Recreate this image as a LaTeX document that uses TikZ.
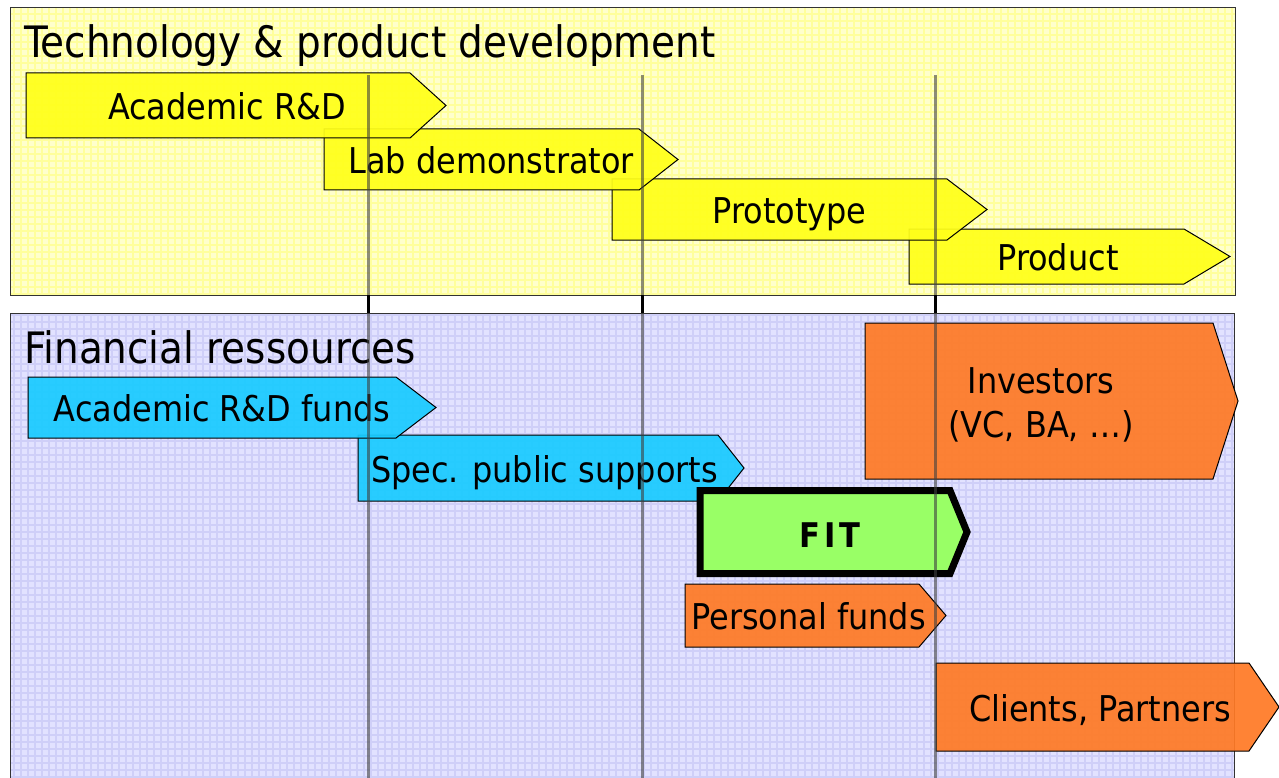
\documentclass[tikz,border=0pt]{standalone}
\usepackage{fontspec}
\setmainfont{DejaVu Sans Condensed}
\definecolor{topbg}{HTML}{FFFFCC}
\definecolor{topgrid}{HTML}{FFFF9C}
\definecolor{botbg}{HTML}{E2E2FF}
\definecolor{botgrid}{HTML}{CFCFF8}
\definecolor{ylw}{HTML}{FFFF1A}
\definecolor{cyn}{HTML}{1ACBFF}
\definecolor{org}{HTML}{FF7A26}
\definecolor{grn}{HTML}{99FF66}
\newcommand\chevbox[8]{% name, left, top, body right, tip, bottom, style, text
  \draw[#7] (#2,#3) -- (#4,#3) -- (#5,{(#3+#6)/2}) -- (#4,#6) -- (#2,#6) -- cycle;
  \node[lbl] (#1) at ({(#2+(#4+#5)/2)/2},{(#3+#6)/2+14}) {#8};
}
\begin{document}
\begin{tikzpicture}[x=1pt,y=-1pt,
  lbl/.style={font=\fontsize{35.5}{40}\selectfont, inner sep=0, anchor=base},
  ttl/.style={font=\fontsize{43.3}{50}\selectfont, inner sep=0, anchor=base west},
  shp/.style={draw=black, line width=1, fill opacity=0.93},
  yshp/.style={shp, fill=ylw},
  cshp/.style={shp, fill=cyn},
  oshp/.style={shp, fill=org},
  fitshp/.style={draw=black, line width=7, fill=grn, line join=miter},
  vline/.style={line width=3, draw=black!75, opacity=0.6},
  vjoin/.style={line width=3, draw=black}]
\useasboundingbox[fill=white] (0,0) rectangle (1279,778);
% panels
\fill[topbg] (10,8) rectangle (1235,295);
\begin{scope}
  \clip (10,8) rectangle (1235,295);
  \draw[topgrid, line width=1.2, step=7pt] (10,8) grid (1235,295);
\end{scope}
\draw[black!80, line width=1] (10,8) rectangle (1235,295);
\fill[botbg] (10,313) rectangle (1234,790);
\begin{scope}
  \clip (10,313) rectangle (1234,790);
  \draw[botgrid, line width=1.2, step=7pt] (10,313) grid (1234,790);
\end{scope}
\draw[black!80, line width=1] (10,790) -- (10,313) -- (1234,313) -- (1234,790);
% titles
\node[ttl] (ttech) at (24,58) {Technology \& product development};
\node[ttl] (tfin) at (24,363) {Financial ressources};
% technology arrows (earlier ones on top)
\chevbox{prod}{909}{229}{1184}{1230}{284}{yshp}{Product}
\chevbox{proto}{612}{179}{947}{987}{240}{yshp}{Prototype}
\chevbox{lab}{324}{129}{639}{678}{190}{yshp}{Lab demonstrator}
\chevbox{acad}{26}{73}{410}{446}{138}{yshp}{Academic R\&D}
% financial arrows
\chevbox{cli}{936}{663}{1249}{1279}{751}{oshp}{Clients, Partners}
\draw[oshp] (865,323) -- (1213,323) -- (1238,401) -- (1213,479) -- (865,479) -- cycle;
\node[lbl] (inv1) at (1041,393) {Investors};
\node[lbl] (inv2) at (1041,437) {(VC, BA, …)};
\chevbox{pers}{685}{584}{919}{946}{647}{oshp}{Personal funds}
\chevbox{spec}{358}{435}{718}{744}{501}{cshp}{Spec. public supports}
\chevbox{acadf}{28}{377}{396}{436}{438}{cshp}{Academic R\&D funds}
\draw[fitshp] (700,490.5) -- (950,490.5) -- (967,532) -- (950,573.5) -- (700,573.5) -- cycle;
\node[lbl, font=\fontsize{34}{40}\selectfont\bfseries\addfontfeature{LetterSpace=12}] (fit) at (830,547) {FIT};
% milestone lines
\coordinate (a1) at (368,75);  \coordinate (b1) at (368,778);
\coordinate (a2) at (642,75);  \coordinate (b2) at (642,778);
\coordinate (a3) at (935,75);  \coordinate (b3) at (935,778);
\coordinate (j1t) at (368,295); \coordinate (j1b) at (368,313);
\coordinate (j2t) at (642,295); \coordinate (j2b) at (642,313);
\coordinate (j3t) at (935,295); \coordinate (j3b) at (935,313);
\draw[vline] (a1) -- (j1t); \draw[vline] (j1b) -- (b1);
\draw[vline] (a2) -- (j2t); \draw[vline] (j2b) -- (b2);
\draw[vline] (a3) -- (j3t); \draw[vline] (j3b) -- (b3);
\draw[vjoin] (j1t) -- (j1b);
\draw[vjoin] (j2t) -- (j2b);
\draw[vjoin] (j3t) -- (j3b);
\end{tikzpicture}
\end{document}
